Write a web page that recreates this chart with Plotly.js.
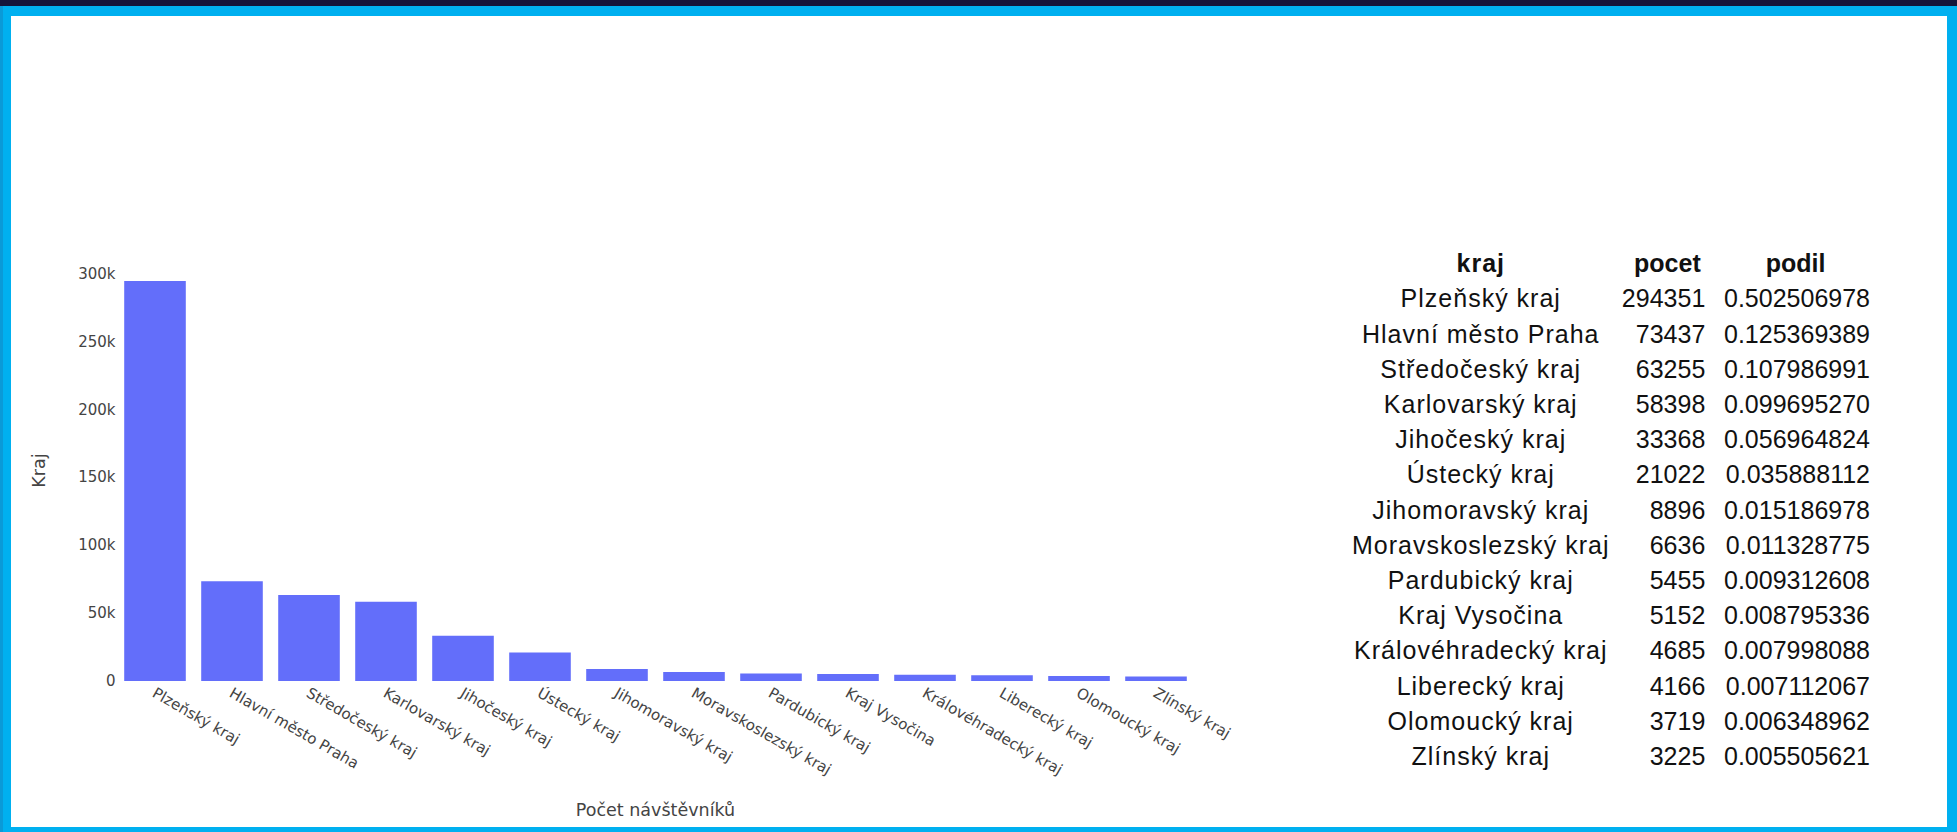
<!DOCTYPE html>
<html>
<head>
<meta charset="utf-8">
<script src="https://cdn.plot.ly/plotly-3.0.1.min.js"></script>
<style>
  html, body { margin:0; padding:0; background:#00b0f0; }
  #frame { position:absolute; left:0; top:0; width:1957px; height:832px; background:#00b0f0; overflow:hidden; }
  #strip { position:absolute; left:0; top:0; width:1957px; height:6px; background:#15153a; }
  #edge { position:absolute; left:0; top:6px; width:3px; height:826px; background:#0a9ad8; }
  #inner { position:absolute; left:11px; top:16px; width:1936px; height:811px; background:#ffffff; }
  #chart { position:absolute; left:0; top:0; width:1957px; height:832px; }
</style>
</head>
<body>
<div id="frame"><div id="strip"></div><div id="edge"></div><div id="inner"></div></div>
<div id="chart"></div>
<script>
const kraje = ['Plzeňský kraj','Hlavní město Praha','Středočeský kraj','Karlovarský kraj','Jihočeský kraj','Ústecký kraj','Jihomoravský kraj','Moravskoslezský kraj','Pardubický kraj','Kraj Vysočina','Královéhradecký kraj','Liberecký kraj','Olomoucký kraj','Zlínský kraj'];
const pocet = [294351,73437,63255,58398,33368,21022,8896,6636,5455,5152,4685,4166,3719,3225];
const podil = [0.502506978,0.125369389,0.107986991,0.099695270,0.056964824,0.035888112,0.015186978,0.011328775,0.009312608,0.008795336,0.007998088,0.007112067,0.006348962,0.005505621];
const headers = ['kraj','pocet','podil'];
const xTitle = 'Počet návštěvníků';
const yTitle = 'Kraj';

const W = 1957, H = 832;
const axisFont = {family:'DejaVu Sans, Verdana, sans-serif', size:15, color:'#444'};
const titleFont = {family:'DejaVu Sans, Verdana, sans-serif', size:17.5, color:'#444'};
const tableFont = {family:'Liberation Sans, Arial, sans-serif', size:25, color:'#111'};
const headFont = {family:'Liberation Sans, Arial, sans-serif', size:25, color:'#111', weight:'bold'};
const noLine = {color:'rgba(0,0,0,0)', width:0};
const noFill = {color:'rgba(0,0,0,0)'};
const rowH = 35.2;

const bar = {
  type:'bar', x:kraje, y:pocet, marker:{color:'#636efa'},
  xaxis:'x', yaxis:'y', showlegend:false
};
const table = {
  type:'table',
  domain:{x:[1340/W, 1879/W], y:[(H-781)/H, (H-245.5)/H]},
  columnwidth:[282, 92, 165],
  header:{
    values:headers,
    align:['center','center','center'],
    height:rowH, line:noLine, fill:noFill, font:headFont
  },
  cells:{
    values:[kraje, pocet, podil],
    format:[null, 'd', '.9f'],
    align:['center','right','right'],
    height:rowH, line:noLine, fill:noFill, font:tableFont
  }
};
const layout = {
  width:W, height:H,
  margin:{l:0, r:0, t:0, b:0},
  paper_bgcolor:'rgba(0,0,0,0)', plot_bgcolor:'rgba(0,0,0,0)',
  font:axisFont,
  bargap:0.2,
  xaxis:{
    domain:[116.5/W, 1194.5/W], automargin:false,
    tickangle:30, showgrid:false, zeroline:false, showline:false,
    tickfont:axisFont,
    title:{text:xTitle, font:titleFont, standoff:26}
  },
  yaxis:{
    domain:[(H-681)/H, (H-260)/H], automargin:false,
    dtick:50000, showgrid:false, zeroline:false, showline:false,
    tickfont:axisFont,
    title:{text:yTitle, font:titleFont, standoff:28}
  }
};
Plotly.newPlot('chart', [bar, table], layout, {displayModeBar:false, staticPlot:true}).then(() => {
  const cols = document.querySelectorAll('#chart .y-column');
  if (cols.length) cols[0].style.letterSpacing = '1px';
});
</script>
</body>
</html>
